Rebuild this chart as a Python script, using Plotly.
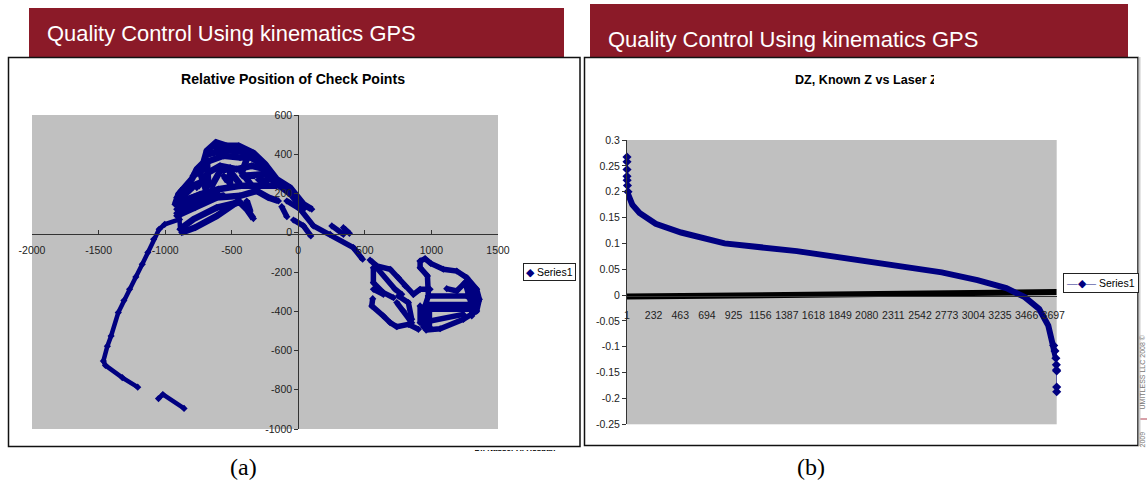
import plotly.graph_objects as go

W, H = 1147, 484
NAVY = "#000080"
MAROON = "#8B1A28"
GRAY = "#C0C0C0"
AXIS = "#333333"

# ---------- chart (a): track strokes, None separates strokes ----------
track_x = [-858, -1017, -1050, None, -1206, -1322, -1448, -1464, -1434, -1406, -1352, -1310, -1267, -1220, -1172, -1130, -1087, -1045, -1003, -892, -888]
track_y = [-895, -824, -845, None, -787, -738, -676, -654, -578, -526, -407, -345, -288, -225, -161, -100, -33, 18, 43, 68, 18]

north_x = [-925, -900, -800, -762, -712, -687, -617, -537, -449, -337, -249, -162, -61, 39, 101, None,
           -913, -775, -612, -437, -312, -224, -149, None,
           -913, -737, -600, -437, -287, -162, None,
           -913, -687, None, -913, -762, None,
           -762, -675, -587, -462, -349, -249, None,
           -700, -562, -437, -312, None,
           -650, -587, -525, -437, None,
           -737, -687, None, -387, -424, -349, None,
           -687, -675, None, -512, -512, None,
           -875, -775, -612, -449, -387, -337, None,
           -888, -787, -612, -449, None, -387, -362, None,
           -925, -800, None, -913, -790, None, -790, -700, None,
           -800, -612, None, -750, -560, None,
           -400, -249, -162, -61, 39, None, -300, -200, None,
           -680, -560, -430, -300, None, -620, -450, None, -560, -530, None,
           -880, -720, None, -860, -640, None, -420, -300, None, -420, -330, None, -300, -230]
north_y = [145, 196, 273, 324, 358, 417, 460, 443, 443, 406, 349, 273, 230, 145, 120, None,
           86, 128, 179, 188, 213, 179, 162, None,
           145, 196, 222, 239, 239, 239, None,
           120, 171, None, 179, 247, None,
           230, 307, 341, 324, 341, 324, None,
           358, 392, 383, 383, None,
           239, 315, 324, 247, None,
           307, 205, None, 375, 307, 239, None,
           375, 239, None, 332, 247, None,
           1, 26, 86, 162, 120, 72, None,
           18, 69, 128, 154, None, 162, 111, None,
           145, 230, None, 100, 175, None, 290, 330, None,
           150, 205, None, 165, 190, None,
           290, 300, 250, 200, 120, None, 360, 290, None,
           400, 420, 415, 380, None, 430, 420, None, 290, 262, None,
           215, 260, None, 165, 215, None, 410, 360, None, 290, 290, None, 270, 265]

middle_x = [-124, -86, None, -36, 39, 94, None, -86, 14, 114, 239, 414, 483, None, 252, 339, None, 339, 384]
middle_y = [133, 82, None, 65, 35, -16, None, 162, 120, 35, -8, -76, -135, None, 35, -8, None, 26, -3]

south_x = [539, 589, 690, 752, 802, 865, 915, 990, None,
           564, 564, 639, 715, None, 589, 727, 777, None, 564, 639, None,
           559, 552, 639, 690, 740, 827, 902, None,
           740, 790, 840, 852, None, 752, 827, 852, None,
           915, 915, 970, 977, 952, 960, None,
           915, 952, 995, 1090, 1190, 1265, 1340, 1360, 1340, 1240, 1065, 960, None,
           977, 1265, 1353, None, 977, 1340, None, 977, 1315, None, 915, 915, None,
           1115, 1190, 1253, 1278, 1303, 1303, None, 990, 1240, None,
           1265, 1320, 1340, 1320, None,
           940, 940, None, 985, 985, None, 1290, 1300]
south_y = [-139, -169, -186, -229, -271, -314, -288, -288, None,
           -178, -254, -305, -331, None, -178, -288, -314, None, -288, -314, None,
           -336, -373, -424, -458, -479, -467, -492, None,
           -356, -399, -441, -458, None, -322, -356, -441, None,
           -144, -178, -220, -322, -373, -484, None,
           -144, -132, -156, -186, -195, -229, -288, -339, -399, -441, -489, -496, None,
           -322, -322, -348, None, -365, -365, None, -390, -390, None, -373, -458, None,
           -285, -297, -254, -314, -373, -424, None, -450, -416, None,
           -260, -310, -360, -400, None,
           -380, -480, None, -400, -480, None, -300, -360]

left_x_ticks = [-2000, -1500, -1000, -500, 0, 500, 1000, 1500]
left_x_text = ["-2000", "-1500", "-1000", "-500", "0", "500", "1000", "1500"]
left_y_ticks = [-1000, -800, -600, -400, -200, 0, 200, 400, 600]
left_y_text = ["-1000", "-800", "-600", "-400", "-200", "0", "200", "400", "600"]

# ---------- chart (b): sorted differences ----------
dz_index = [1, 47, 110, 250, 470, 847, 1474, 2100, 2730, 3040, 3290, 3450, 3575, 3654, 3701, 3720]
dz_value = [0.20, 0.175, 0.159, 0.138, 0.121, 0.100, 0.085, 0.064, 0.044, 0.029, 0.0135, -0.004, -0.027, -0.059, -0.0975, -0.122]
head_index = [1, 1, 1, 1, 2, 5, 10]
head_value = [0.267, 0.258, 0.243, 0.230, 0.222, 0.212, 0.20]
tail_index = [3701, 3712, 3720, 3724, 3725, 3727, 3727, 3727]
tail_value = [-0.0975, -0.108, -0.122, -0.135, -0.145, -0.147, -0.178, -0.187]
zero_index = [1, 3727]
zero_value = [-0.003, 0.006]
right_x_ticks = [1, 232, 463, 694, 925, 1156, 1387, 1618, 1849, 2080, 2311, 2542, 2773, 3004, 3235, 3466, 3697]
right_y_ticks = [0.3, 0.25, 0.2, 0.15, 0.1, 0.05, 0, -0.05, -0.1, -0.15, -0.2, -0.25]
right_y_text = ["0.3", "0.25", "0.2", "0.15", "0.1", "0.05", "0", "-0.05", "-0.1", "-0.15", "-0.2", "-0.25"]


def px(v):
    return v / W


def py(v):
    return 1 - v / H


fig = go.Figure()
mark = dict(symbol="diamond", size=5.5, color=NAVY)
for name, xs, ys, lw in [("track", track_x, track_y, 4.5), ("north", north_x, north_y, 6.5),
                         ("middle", middle_x, middle_y, 5.5), ("south", south_x, south_y, 5.5)]:
    fig.add_trace(go.Scatter(x=xs, y=ys, name=name, mode="lines+markers", line=dict(color=NAVY, width=lw),
                             marker=mark, showlegend=False, xaxis="x", yaxis="y"))

fig.add_trace(go.Scatter(x=zero_index, y=zero_value, mode="lines", line=dict(color="black", width=6),
                         showlegend=False, xaxis="x2", yaxis="y2"))
fig.add_trace(go.Scatter(x=dz_index, y=dz_value, mode="lines", line=dict(color=NAVY, width=6),
                         showlegend=False, xaxis="x2", yaxis="y2"))
for xs, ys in [(head_index, head_value), (tail_index, tail_value)]:
    fig.add_trace(go.Scatter(x=xs, y=ys, mode="lines+markers", line=dict(color=NAVY, width=1),
                             marker=dict(symbol="diamond", size=7, color=NAVY), cliponaxis=False,
                             showlegend=False, xaxis="x2", yaxis="y2"))

tickfont = dict(family="Liberation Sans", size=10.5, color="#222222")
common = dict(showgrid=False, zeroline=False, showline=True, linecolor=AXIS, linewidth=1,
              tickcolor=AXIS, ticklen=4, tickfont=tickfont, fixedrange=True, automargin=False)

shapes = [
    dict(type="rect", xref="paper", yref="paper", x0=px(29), x1=px(564), y0=py(57), y1=py(8),
         fillcolor=MAROON, line_width=0),
    dict(type="rect", xref="paper", yref="paper", x0=px(590), x1=px(1128), y0=py(57), y1=py(4),
         fillcolor=MAROON, line_width=0),
    dict(type="rect", xref="paper", yref="paper", x0=px(8.5), x1=px(580), y0=py(446.5), y1=py(57.5),
         fillcolor="rgba(0,0,0,0)", line=dict(color="#111111", width=1.5)),
    dict(type="rect", xref="paper", yref="paper", x0=px(584.5), x1=px(1138), y0=py(445.5), y1=py(57.5),
         fillcolor="rgba(0,0,0,0)", line=dict(color="#111111", width=1.5)),
    dict(type="line", xref="paper", yref="paper", x0=px(1139), x1=px(1147), y0=py(419), y1=py(419),
         line=dict(color="#B04050", width=1)),
    dict(type="line", xref="paper", yref="paper", x0=px(1139.5), x1=px(1139.5), y0=py(446), y1=py(57),
         line=dict(color="#CCCCCC", width=2)),
]


def note(text, x, y, size, color="black", family="Liberation Sans", xanchor="center", yanchor="middle", **kw):
    return dict(text=text, x=px(x), y=py(y), xref="paper", yref="paper", showarrow=False, xanchor=xanchor,
                yanchor=yanchor, font=dict(family=family, size=size, color=color), **kw)


annotations = [
    note("Quality Control Using kinematics GPS", 45, 34, 21.9, "white", xanchor="left"),
    note("Quality Control Using kinematics GPS", 606, 40, 22, "white", xanchor="left"),
    note("<b>Relative Position of Check Points</b>", 292.5, 79, 14.1),
    note("<b>DZ, Known Z vs Laser Z</b>", 793, 80, 12.6, xanchor="left", width=139, align="left"),
    note("(a)", 243, 467, 24, family="Liberation Serif"),
    note("(b)", 811, 467, 24, family="Liberation Serif"),
    note("<span style='color:#000080'>◆</span> Series1", 549.5, 272, 10.5,
         bordercolor="#222222", borderwidth=1, borderpad=2, bgcolor="white"),
    note("<span style='color:#6666AA'>—</span><span style='color:#000080'>◆</span>"
         "<span style='color:#6666AA'>—</span> Series1", 1100.5, 283, 10.5,
         bordercolor="#222222", borderwidth=1, borderpad=3, bgcolor="white"),
    note("UMITLESS LLC 2008 ©", 1141.5, 372, 7, "#777777", textangle=-90),
    note("2009", 1141.5, 440, 7, "#777777", textangle=-90),
    note("<b>Dr. Nasser Al Hosban</b>", 515, 447.5, 8, yanchor="top", height=3, width=82, valign="bottom"),
]

fig.update_layout(
    width=W, height=H, autosize=False,
    margin=dict(l=0, r=0, t=0, b=0, autoexpand=False),
    paper_bgcolor="white", plot_bgcolor=GRAY,
    shapes=shapes, annotations=annotations,
    xaxis=dict(domain=[px(32), px(498)], range=[-2000, 1500], tickvals=left_x_ticks, ticktext=left_x_text,
               anchor="free", position=py(233.5), ticks="inside", ticklabelstandoff=7, **common),
    yaxis=dict(domain=[py(429), py(115)], range=[-1000, 600], tickvals=left_y_ticks, ticktext=left_y_text,
               anchor="free", position=px(298.2), ticks="outside", **common),
    xaxis2=dict(domain=[px(627), px(1056.7)], range=[1, 3727], tickvals=right_x_ticks, anchor="free",
                position=py(296), ticks="", ticklabelstandoff=9, **common),
    yaxis2=dict(domain=[py(424.3), py(140)], range=[-0.25, 0.3], tickvals=right_y_ticks, ticktext=right_y_text,
                anchor="x2", ticks="outside", **common),
    showlegend=False,
)

fig.write_html("out.html", post_script="document.body.style.margin='0';", config=dict(displayModeBar=False))
